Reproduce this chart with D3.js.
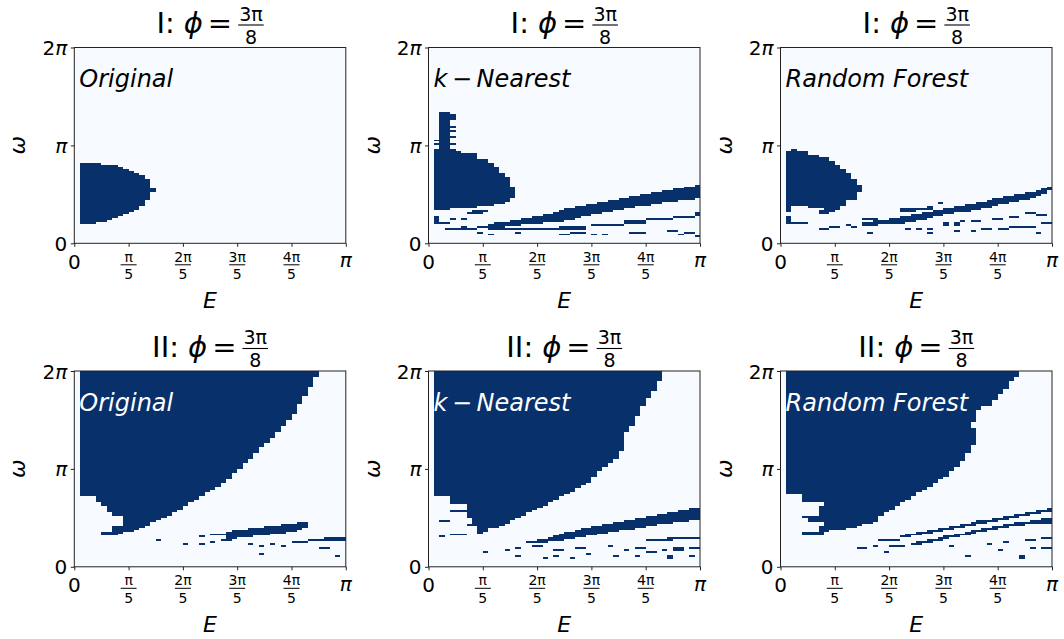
<!DOCTYPE html>
<html><head><meta charset="utf-8">
<script src="https://cdn.jsdelivr.net/npm/d3@7"></script>
<style>
body{margin:0;background:#fff}
svg{display:block}
text{font-family:"DejaVu Sans",sans-serif;fill:#000}
</style>
</head><body>
<svg id="chart" width="1064" height="639"></svg>
<script>
// ---------------- grid / ticks ----------------
const nE = 50, nW = 100;                 // E columns (0..pi), omega rows (0..2pi)
const xTickValues = [0, 1, 2, 3, 4, 5];  // multiples of pi/5
const xTickLabels = [["0"], ["π","5"], ["2π","5"], ["3π","5"], ["4π","5"], ["π"]];
const yTickValues = [0, 1, 2];           // multiples of pi
const yTickLabels = ["0", "π", "2π"];
const rowNames = ["I", "II"];
const methodNames = [["Original"], ["k", "Nearest"], ["Random Forest"]];
const phiNum = "3π", phiDen = "8";

// ---------------- data: filled cells ----------------
// rect cells: [row0,row1,col0,col1] (inclusive);  band cells: [col,row0,row1]
const blobIOriginal = [[10,10,1,3],[11,11,1,5],[12,12,1,6],[13,13,1,7],[14,14,1,8],[15,15,1,9],[16,16,1,10],[17,18,1,11],[19,21,1,12],[22,25,1,13],[26,27,1,14],[28,32,1,13],[33,34,1,12],[35,35,1,11],[36,36,1,10],[37,37,1,9],[38,38,1,8],[39,39,1,7],[40,40,1,4]];

const blobIKnn = [[17,17,1,3],[18,18,1,8],[19,19,1,11],[20,20,1,13],[21,22,1,14],[23,28,1,15],[29,33,1,14],[34,35,1,13],[36,38,1,12],[39,40,1,11],[41,42,1,10],[43,45,1,8],[46,46,1,5],[47,47,1,4],
  [48,66,2,3],[63,65,4,4],[59,59,4,4],[57,57,4,4],[54,54,4,4],[50,50,4,4],[52,52,1,1],[50,50,1,1],
  [16,16,8,10],[15,15,7,9],[11,13,1,1],[10,10,1,3],[12,12,4,4],[12,12,6,6]];
const bandIKnn = [[11,8,9],[12,8,10],[13,8,10],[14,9,10],[15,9,11],[16,9,11],[17,10,12],[18,10,12],[19,10,13],[20,10,13],[21,11,14],[22,11,14],[23,11,15],[24,11,16],[25,12,17],[26,12,17],[27,13,18],[28,14,18],[29,14,19],[30,15,19],[31,15,20],[32,16,20],[33,16,21],[34,17,21],[35,17,22],[36,18,22],[37,18,23],[38,19,23],[39,19,24],[40,19,24],[41,20,25],[42,20,25],[43,21,26],[44,21,26],[45,21,27],[46,22,27],[47,22,28],[48,22,28],[49,23,29]];
const bitsIKnn = [[7,7,3,8],[8,8,6,6],[8,8,9,10],[7,7,11,23],[7,8,24,28],[9,9,30,35],[10,11,36,39],[12,12,40,44],[13,13,45,48],[14,15,49,49],
  [4,4,24,25],[5,5,26,28],[4,4,30,30],[4,4,32,32],[5,5,37,37],[5,5,38,39],[6,6,44,45],[4,4,46,46],[5,5,47,48],[3,3,49,49],[5,5,9,9],[4,4,11,11],[5,5,16,16]];

const blobIForest = [[47,47,2,2],[45,46,1,4],[44,44,1,6],[42,43,1,8],[40,41,1,9],[38,39,1,10],[36,37,1,11],[33,35,1,12],[30,32,1,13],[26,29,1,14],[22,25,1,13],[19,21,1,11],
  [18,18,1,1],[18,18,5,10],[17,17,1,1],[17,17,8,10],[16,16,1,1],[16,16,7,9],[15,15,7,8],[10,13,1,1],[10,10,1,4]];
const bandIForest = [[15,9,10],[16,9,10],[17,9,11],[18,10,11],[19,10,11],[20,10,12],[21,10,12],[22,10,13],[23,11,13],[24,11,14],[25,12,14],[26,12,15],[27,13,15],[28,14,16],[29,14,16],[30,15,17],[31,15,17],[32,16,18],[33,16,18],[34,16,19],[35,17,19],[36,17,20],[37,18,20],[38,18,21],[39,19,22],[40,20,22],[41,20,23],[42,21,23],[43,21,24],[44,22,24],[45,22,25],[46,23,25],[47,24,26],[48,25,27],[49,27,28]];
const bitsIForest = [[12,12,15,17],[16,17,22,24],[17,17,24,27],[18,18,27,27],[20,20,29,29],
  [7,7,7,8],[8,8,9,10],[9,9,12,12],[8,8,13,13],[5,5,16,16],[7,7,23,23],[7,7,25,25],[5,5,27,27],[7,7,27,27],[9,10,30,30],[9,10,32,32],[6,6,32,32],[11,11,33,33],[11,11,35,36],[6,6,35,35],[7,7,37,38],[12,12,39,40],[7,7,40,41],[13,13,42,43],[8,8,42,46],[15,15,45,46],[14,14,47,48],[5,5,47,47],[10,10,48,49]];

const blobIIOriginal = [[97,99,1,44],[92,96,1,43],[87,91,1,42],[83,86,1,41],[78,82,1,40],[75,77,1,39],[72,74,1,38],[69,71,1,37],[66,68,1,36],[63,65,1,35],[61,62,1,34],[58,60,1,33],[55,57,1,32],[53,54,1,31],[50,52,1,30],[48,49,1,29],[45,47,1,28],[43,44,1,27],[41,42,1,26],[39,40,1,25],[38,38,1,24],[36,37,1,23],
  [34,35,4,22],[33,33,4,21],[31,32,5,20],[29,30,6,19],[28,28,6,18],[26,27,7,17],[25,25,9,16],[24,24,9,15],[23,23,9,14],[21,22,9,13],[20,20,7,12],[19,19,7,11],[18,18,7,10],[17,17,5,8],[16,16,5,7]];
const bandIIOriginal = [[25,16,16],[26,16,16],[27,16,16],[28,14,17],[29,14,18],[30,15,18],[31,15,18],[32,15,19],[33,16,19],[34,16,19],[35,16,20],[36,17,20],[37,17,20],[38,17,21],[39,18,21],[40,18,21],[41,19,22],[42,20,22]];
const bitsIIOriginal = [[12,12,40,42],[13,13,43,49],[14,14,46,49],
  [13,13,15,15],[11,11,20,20],[15,15,23,23],[11,11,23,23],[12,12,25,25],[13,13,27,28],[11,11,32,32],[10,10,34,34],[6,6,34,34],[11,11,36,36],[10,10,38,38],[9,9,45,46],[5,5,48,48]];

const blobIIKnn = [[95,99,1,42],[90,94,1,41],[86,89,1,40],[82,85,1,39],[77,81,1,38],[72,76,1,37],[69,71,1,36],[59,68,1,35],[55,58,1,34],[53,54,1,33],[51,52,1,32],[49,50,1,31],[46,48,1,30],[43,45,1,29],[42,42,1,28],[40,41,1,27],[38,39,1,26],[37,37,1,25],[36,36,1,24],
  [34,35,4,23],[33,33,4,22],[32,32,4,21],[31,31,7,21],[30,30,7,20],[29,29,7,19],[28,28,4,18],[26,27,7,17],[25,25,7,16],[24,24,8,15],[22,23,8,14],[21,21,8,13],[20,20,9,12],[19,19,9,10],[18,18,9,10],[17,17,9,9],
  [23,23,2,3],[15,15,2,2],[16,16,4,6],[21,21,7,7]];
const bandIIKnn = [[22,13,14],[23,13,15],[24,13,16],[25,14,17],[26,14,17],[27,15,18],[28,15,19],[29,16,19],[30,16,20],[31,17,20],[32,17,21],[33,18,21],[34,18,22],[35,19,22],[36,19,23],[37,19,23],[38,20,24],[39,20,24],[40,21,25],[41,21,25],[42,22,26],[43,22,26],[44,22,27],[45,23,27],[46,23,28],[47,23,28],[48,24,29],[49,24,29]];
const bitsIIKnn = [[12,12,18,21],[13,13,20,24],[13,13,40,44],[14,14,44,49],
  [7,7,10,10],[8,8,14,14],[9,9,16,16],[5,5,16,16],[10,10,19,20],[4,4,21,21],[8,8,23,24],[5,5,23,23],[4,4,26,26],[9,9,27,28],[6,6,29,29],[10,10,33,33],[5,5,34,34],[8,8,36,36],[9,9,38,39],[5,5,38,38],[7,7,40,41],[8,8,43,43],[4,5,44,44],[8,9,45,46],[9,9,48,49],[5,5,48,48]];

const blobIIForest = [[97,99,1,43],[95,96,1,42],[91,94,1,41],[88,90,1,40],[85,87,1,39],[82,84,1,38],[80,81,1,36],[77,79,1,35],[74,76,1,35],[71,73,1,34],[62,70,1,35],[58,61,1,34],[54,57,1,33],[51,53,1,32],[49,50,1,31],[46,48,1,30],[45,45,1,29],[43,44,1,28],[41,42,1,27],[39,40,1,26],[38,38,1,25],[37,37,1,24],
  [36,36,4,24],[34,35,4,23],[33,33,4,22],[31,32,8,21],[29,30,7,20],[28,28,7,19],[26,27,7,18],[25,25,4,17],[23,24,5,17],[22,22,8,16],[21,21,8,14],[20,20,7,13],[19,19,7,11],[18,18,7,8],[16,17,4,7]];
const bandIIForestUpper = [[22,15,15],[23,15,16],[24,16,16],[25,16,17],[26,17,17],[27,17,18],[28,18,18],[29,18,19],[30,19,19],[31,19,20],[32,20,20],[33,20,21],[34,21,21],[35,21,22],[36,22,23],[37,22,23],[38,23,23],[39,23,24],[40,24,24],[41,24,25],[42,25,25],[43,25,26],[44,26,26],[45,26,27],[46,27,27],[47,27,28],[48,28,28],[49,28,29]];
const bandIIForestLower = [[24,11,11],[25,11,12],[26,12,12],[27,12,13],[28,13,13],[29,13,14],[30,14,15],[31,15,15],[32,15,16],[33,16,16],[34,16,17],[35,17,18],[36,18,18],[37,18,19],[38,19,19],[39,19,20],[40,20,20],[41,20,21],[42,21,21],[43,21,22],[44,21,22],[45,22,22],[46,22,23],[47,22,23],[48,22,24],[49,22,24]];
const bitsIIForest = [[13,13,18,19],[13,13,20,21],[10,10,20,22],[9,9,14,15],[10,10,17,17],[7,7,19,19],[10,10,31,31],[5,5,34,34],[11,11,38,38],[8,8,40,40],[12,12,41,41],[4,5,44,44],[13,13,45,46],[9,9,46,46],[14,14,48,49],[9,9,48,49]];

// ---------------- layout ----------------
const colX = [74.3, 428.5, 780.5];
const rowY = [47.5, 371];
const plotW = 271.5, plotH = 195.8;
const DARK = "#08306b", LIGHT = "#f7fbff";

const panels = [
  {r:0,c:0,rects:[blobIOriginal],bands:[]},
  {r:0,c:1,rects:[blobIKnn,bitsIKnn],bands:[bandIKnn]},
  {r:0,c:2,rects:[blobIForest,bitsIForest],bands:[bandIForest]},
  {r:1,c:0,rects:[blobIIOriginal,bitsIIOriginal],bands:[bandIIOriginal]},
  {r:1,c:1,rects:[blobIIKnn,bitsIIKnn],bands:[bandIIKnn]},
  {r:1,c:2,rects:[blobIIForest,bitsIIForest],bands:[bandIIForestUpper,bandIIForestLower]}
];

const svg = d3.select("#chart");

panels.forEach(p => {
  const x0 = colX[p.c], y0 = rowY[p.r];
  const cx = d3.scaleLinear().domain([0, nE]).range([x0, x0 + plotW]);
  const cy = d3.scaleLinear().domain([0, nW]).range([y0 + plotH, y0]);
  const ex = d3.scaleLinear().domain([0, 5]).range([x0, x0 + plotW]);
  const ey = d3.scaleLinear().domain([0, 2]).range([y0 + plotH, y0]);
  const g = svg.append("g");

  g.append("rect").attr("x", x0).attr("y", y0).attr("width", plotW).attr("height", plotH).attr("fill", LIGHT);

  const cells = [];
  p.rects.forEach(arr => arr.forEach(d => cells.push({r0:d[0], r1:d[1], c0:d[2], c1:d[3]})));
  p.bands.forEach(arr => arr.forEach(d => cells.push({r0:d[1], r1:d[2], c0:d[0], c1:d[0]})));

  g.append("g").attr("shape-rendering", "crispEdges").selectAll("rect").data(cells).join("rect")
    .attr("x", d => cx(d.c0)).attr("width", d => cx(d.c1 + 1) - cx(d.c0))
    .attr("y", d => cy(d.r1 + 1)).attr("height", d => cy(d.r0) - cy(d.r1 + 1))
    .attr("fill", DARK);

  // frame
  g.append("rect").attr("x", x0).attr("y", y0).attr("width", plotW).attr("height", plotH)
    .attr("fill", "none").attr("stroke", "#222").attr("stroke-width", 1);

  // axes (ticks only; labels custom)
  const xa = g.append("g").attr("transform", `translate(0,${y0 + plotH})`)
    .call(d3.axisBottom(ex).tickValues(xTickValues).tickSize(3.5).tickFormat(""));
  const ya = g.append("g").attr("transform", `translate(${x0},0)`)
    .call(d3.axisLeft(ey).tickValues(yTickValues).tickSize(3.5).tickFormat(""));
  [xa, ya].forEach(a => { a.select(".domain").remove(); a.selectAll("line").attr("stroke", "#222"); });

  // x tick labels
  xTickValues.forEach((v, i) => {
    const lab = xTickLabels[i], tx = ex(v), base = y0 + plotH;
    if (lab.length === 1) {
      const italic = lab[0] === "π";
      g.append("text").attr("x", tx).attr("y", base + (italic ? 24 : 25.5)).attr("text-anchor", "middle")
        .attr("font-size", 20).attr("font-style", italic ? "italic" : "normal").text(lab[0]);
    } else {
      g.append("text").attr("x", tx).attr("y", base + 18.5).attr("text-anchor", "middle")
        .attr("font-size", 14).text(lab[0]);
      g.append("line").attr("x1", tx - 8).attr("x2", tx + 8).attr("y1", base + 21.5).attr("y2", base + 21.5)
        .attr("stroke", "#000").attr("stroke-width", 1);
      g.append("text").attr("x", tx).attr("y", base + 36).attr("text-anchor", "middle")
        .attr("font-size", 14).text(lab[1]);
    }
  });
  // y tick labels
  yTickValues.forEach((v, i) => {
    const t = yTickLabels[i];
    const tt = g.append("text").attr("x", x0 - 7).attr("y", ey(v) + 7.5).attr("text-anchor", "end").attr("font-size", 20);
    if (t === "0") tt.text("0");
    else {
      if (t.length > 1) tt.append("tspan").text(t.slice(0, -1));
      tt.append("tspan").attr("font-style", "italic").text("π");
    }
  });
  // axis labels
  g.append("text").attr("x", x0 + plotW / 2).attr("y", y0 + plotH + 65).attr("text-anchor", "middle")
    .attr("font-size", 22).attr("font-style", "italic").text("E");
  g.append("text").attr("transform", `translate(${x0 - 49},${y0 + plotH / 2}) rotate(-90)`)
    .attr("text-anchor", "middle").attr("font-size", 22).attr("font-style", "italic").text("ω");

  // method label
  const ml = g.append("text").attr("x", x0 + 5).attr("y", y0 + 39.5).attr("font-size", 24)
    .style("fill", p.r === 0 ? "#000" : "#fff");
  const parts = methodNames[p.c];
  ml.append("tspan").attr("font-style", "italic").text(parts[0]);
  if (parts.length > 1) {
    ml.append("tspan").attr("dx", 4.5).text("−");
    ml.append("tspan").attr("dx", 4.5).attr("font-style", "italic").text(parts[1]);
  }

  // title
  const tg = g.append("g");
  let cur = 0;
  const tb = y0 - 14.5;
  const t1 = tg.append("text").attr("x", cur).attr("y", tb).attr("font-size", 29).text(rowNames[p.r] + ":");
  cur += t1.node().getComputedTextLength() + 9;
  const t2 = tg.append("text").attr("x", cur).attr("y", tb).attr("font-size", 29).attr("font-style", "italic").text("ϕ");
  cur += t2.node().getComputedTextLength() + 5;
  const t3 = tg.append("text").attr("x", cur).attr("y", tb).attr("font-size", 29).text("=");
  cur += t3.node().getComputedTextLength() + 6;
  const fn = tg.append("text").attr("y", tb - 12.5).attr("font-size", 19).text(phiNum);
  const fw = fn.node().getComputedTextLength();
  fn.attr("x", cur + 1);
  tg.append("line").attr("x1", cur).attr("x2", cur + fw + 2).attr("y1", tb - 8).attr("y2", tb - 8)
    .attr("stroke", "#000").attr("stroke-width", 1.1);
  tg.append("text").attr("x", cur + 1 + fw / 2).attr("y", tb + 10.5).attr("text-anchor", "middle").attr("font-size", 19).text(phiDen);
  cur += fw + 2;
  tg.attr("transform", `translate(${x0 + plotW / 2 - cur / 2},0)`);
});
</script>
</body></html>
